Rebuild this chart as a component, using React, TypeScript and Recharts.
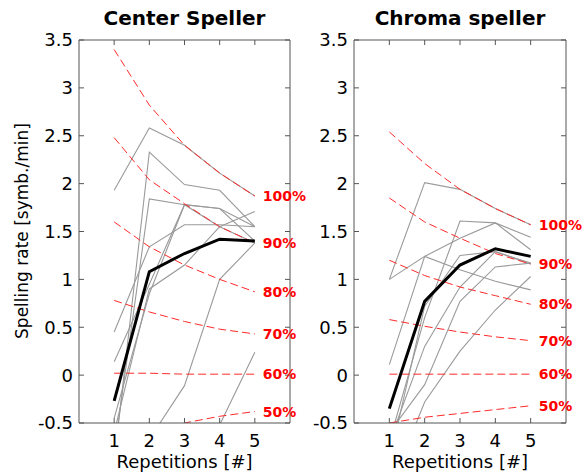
import React from 'react';
import { LineChart, Line, XAxis, YAxis, LabelList } from 'recharts';

const FONT = '"DejaVu Sans", Verdana, sans-serif';
const BOX = '#555';
const RED = '#ff2a2a';

const REPS = [1, 2, 3, 4, 5];
const X_TICKS = [1, 2, 3, 4, 5];
const Y_TICKS = [-0.5, 0, 0.5, 1, 1.5, 2, 2.5, 3, 3.5];
const ACC_LABELS = ['100%', '90%', '80%', '70%', '60%', '50%'];

// Center speller: one row per subject, values at repetitions 1..5
const centerSubjects = [
  [1.93, 2.58, 2.4, 2.11, 1.87],
  [-0.9, 2.33, 1.99, 1.93, 1.55],
  [-0.8, 1.84, 1.78, 1.74, 1.4],
  [0.45, 1.34, 1.57, 1.57, 1.55],
  [0.14, 0.95, 1.78, 1.74, 1.55],
  [-0.45, 0.85, 1.78, 1.55, 1.38],
  [-0.6, 0.9, 1.15, 1.55, 1.71],
  [-1.5, -0.67, -0.11, 1.0, 1.38],
  [-1.8, -1.4, -1.0, -0.52, 0.24],
];
const centerMean = [-0.27, 1.08, 1.27, 1.42, 1.4];
// iso-accuracy curves 100%..50%
const centerAcc = [
  [3.4, 2.82, 2.4, 2.11, 1.87],
  [2.48, 2.04, 1.79, 1.55, 1.38],
  [1.6, 1.34, 1.15, 1.0, 0.87],
  [0.78, 0.66, 0.56, 0.48, 0.43],
  [0.02, 0.02, 0.01, 0.01, 0.01],
  [-0.72, -0.6, -0.5, -0.43, -0.38],
];

// Chroma speller
const chromaSubjects = [
  [1.0, 2.01, 1.94, 1.74, 1.57],
  [1.0, 1.24, 1.1, 0.98, 0.89],
  [0.11, 1.24, 1.43, 1.59, 1.44],
  [-0.7, 0.6, 1.61, 1.59, 1.31],
  [-0.9, 0.72, 1.25, 1.29, 1.17],
  [-0.7, 0.3, 0.92, 1.29, 1.16],
  [-0.6, -0.1, 0.77, 1.13, 1.17],
  [-1.2, -0.28, 0.25, 0.68, 1.03],
];
const chromaMean = [-0.35, 0.77, 1.15, 1.32, 1.24];
const chromaAcc = [
  [2.54, 2.21, 1.94, 1.74, 1.57],
  [1.85, 1.6, 1.43, 1.27, 1.16],
  [1.2, 1.04, 0.92, 0.83, 0.74],
  [0.58, 0.51, 0.45, 0.4, 0.36],
  [0.01, 0.01, 0.01, 0.01, 0.01],
  [-0.5, -0.44, -0.4, -0.36, -0.32],
];

const X_DOMAIN: [number, number] = [0, 6];
const Y_DOMAIN: [number, number] = [-0.5, 3.5];

const buildRows = (subjects: number[][], mean: number[], acc: number[][]) =>
  REPS.map((rep, i) => {
    const row: Record<string, number> = { rep, mean: mean[i] };
    subjects.forEach((s, k) => (row['s' + k] = s[i]));
    acc.forEach((a, k) => (row['a' + k] = a[i]));
    return row;
  });

// matlab-style box: ticks point inwards on all four sides
const LeftTick = ({ x, y, payload }: any) => (
  <g>
    <line x1={x} x2={x + 5} y1={y} y2={y} stroke={BOX} />
    <text x={x - 6} y={y} dy="0.36em" textAnchor="end" fontSize={18} fontFamily={FONT} fill="#000">
      {payload.value}
    </text>
  </g>
);

const RightTick = ({ x, y }: any) => <line x1={x} x2={x - 5} y1={y} y2={y} stroke={BOX} />;

const BottomTick = ({ x, y, payload }: any) => (
  <g>
    <line x1={x} x2={x} y1={y} y2={y - 5} stroke={BOX} />
    <text x={x} y={y + 24} textAnchor="middle" fontSize={18} fontFamily={FONT} fill="#000">
      {payload.value}
    </text>
  </g>
);

const TopTick = ({ x, y }: any) => <line x1={x} x2={x} y1={y} y2={y + 5} stroke={BOX} />;

const makeAccLabel = (text: string) => (props: any) => {
  const { x, y, index } = props;
  if (index !== REPS.length - 1) return null;
  return (
    <text x={x + 8} y={y} dy="0.36em" fontSize={14} fontWeight="bold" fontFamily={FONT} fill="#ff0000">
      {text}
    </text>
  );
};

type PanelProps = {
  rows: Record<string, number>[];
  nSubjects: number;
  width: number;
  yAxisWidth: number;
  rightMargin: number;
};

const Panel = ({ rows, nSubjects, width, yAxisWidth, rightMargin }: PanelProps) => (
  <LineChart
    width={width}
    height={476}
    data={rows}
    margin={{ top: 39, right: rightMargin, bottom: 13, left: 0 }}
    style={{ fontFamily: FONT }}
  >
    <XAxis
      dataKey="rep"
      type="number"
      domain={X_DOMAIN}
      ticks={X_TICKS}
      allowDataOverflow
      interval={0}
      height={40}
      tickSize={0}
      tickMargin={0}
      tickLine={false}
      axisLine={{ stroke: BOX }}
      tick={<BottomTick />}
    />
    <XAxis
      xAxisId="top"
      orientation="top"
      dataKey="rep"
      type="number"
      domain={X_DOMAIN}
      ticks={X_TICKS}
      allowDataOverflow
      interval={0}
      height={1}
      tickSize={0}
      tickMargin={0}
      tickLine={false}
      axisLine={{ stroke: BOX }}
      tick={<TopTick />}
    />
    <YAxis
      type="number"
      domain={Y_DOMAIN}
      ticks={Y_TICKS}
      allowDataOverflow
      interval={0}
      width={yAxisWidth}
      tickSize={0}
      tickMargin={0}
      tickLine={false}
      axisLine={{ stroke: BOX }}
      tick={<LeftTick />}
    />
    <YAxis
      yAxisId="right"
      orientation="right"
      type="number"
      domain={Y_DOMAIN}
      ticks={Y_TICKS}
      allowDataOverflow
      interval={0}
      width={1}
      tickSize={0}
      tickMargin={0}
      tickLine={false}
      axisLine={{ stroke: BOX }}
      tick={<RightTick />}
    />
    {Array.from({ length: nSubjects }, (_, k) => (
      <Line
        key={'s' + k}
        dataKey={'s' + k}
        type="linear"
        stroke="#9a9a9a"
        strokeWidth={1.1}
        dot={false}
        isAnimationActive={false}
      />
    ))}
    {ACC_LABELS.map((lab, k) => (
      <Line
        key={'a' + k}
        dataKey={'a' + k}
        type="linear"
        stroke={RED}
        strokeWidth={1}
        strokeDasharray="8 4"
        dot={false}
        isAnimationActive={false}
      >
        <LabelList dataKey={'a' + k} content={makeAccLabel(lab)} />
      </Line>
    ))}
    <Line dataKey="mean" type="linear" stroke="#000" strokeWidth={3} dot={false} isAnimationActive={false} />
  </LineChart>
);

const centerRows = buildRows(centerSubjects, centerMean, centerAcc);
const chromaRows = buildRows(chromaSubjects, chromaMean, chromaAcc);

export default function App() {
  return (
    <div style={{ position: 'absolute', left: 0, top: 0, width: 587, height: 476, background: '#fff', overflow: 'hidden' }}>
      <div style={{ position: 'absolute', left: 0, top: 0 }}>
        <Panel rows={centerRows} nSubjects={centerSubjects.length} width={320} yAxisWidth={79} rightMargin={29} />
      </div>
      <div style={{ position: 'absolute', left: 293, top: 0 }}>
        <Panel rows={chromaRows} nSubjects={chromaSubjects.length} width={294} yAxisWidth={61} rightMargin={20} />
      </div>
      <svg width={587} height={476} style={{ position: 'absolute', left: 0, top: 0, pointerEvents: 'none' }} fontFamily={FONT}>
        <text x={184.5} y={25} textAnchor="middle" fontSize={20} fontWeight="bold">Center Speller</text>
        <text x={460} y={25} textAnchor="middle" fontSize={20} fontWeight="bold">Chroma speller</text>
        <text x={184.5} y={468} textAnchor="middle" fontSize={18}>Repetitions [#]</text>
        <text x={460} y={468} textAnchor="middle" fontSize={18}>Repetitions [#]</text>
        <text x={22} y={231} dy="0.36em" textAnchor="middle" fontSize={17} transform="rotate(-90, 22, 231)">
          Spelling rate [symb./min]
        </text>
      </svg>
    </div>
  );
}
